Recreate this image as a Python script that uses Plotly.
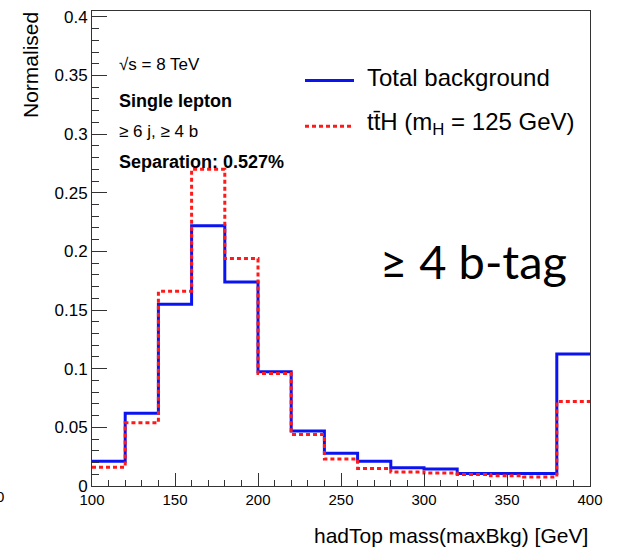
import plotly.graph_objects as go

# Histogram binning (GeV) and normalised bin contents
bin_edges = [100, 120, 140, 160, 180, 200, 220, 240, 260, 280, 300, 320, 340, 360, 380, 400]
total_background = [0.021, 0.062, 0.155, 0.222, 0.174, 0.0975, 0.047, 0.028, 0.021,
                    0.0155, 0.0144, 0.0107, 0.0107, 0.0107, 0.1125]
tth_signal = [0.016, 0.054, 0.166, 0.270, 0.194, 0.096, 0.044, 0.023, 0.015,
              0.012, 0.011, 0.0099, 0.0087, 0.0076, 0.072]

W, H = 629, 552
L, R, T, B = 92, 39, 8, 66
PW, PH = W - L - R, H - T - B


def px(x):
    return (x - L) / PW


def py(y):
    return (H - B - y) / PH


FONT = "Liberation Sans, Arial, Helvetica, sans-serif"
BLUE = "#0a14f0"
RED = "#ff1a1a"

fig = go.Figure()

fig.add_trace(go.Scatter(
    x=bin_edges, y=total_background + [total_background[-1]],
    mode="lines", line=dict(shape="hv", color=BLUE, width=3),
    name="Total background", showlegend=False, hoverinfo="skip"))

fig.add_trace(go.Scatter(
    x=bin_edges, y=tth_signal + [tth_signal[-1]],
    mode="lines", line=dict(shape="hv", color=RED, width=3, dash="4px,3px"),
    name="ttH", showlegend=False, hoverinfo="skip"))

axis_common = dict(
    showgrid=False, zeroline=False, showline=True, mirror=True,
    linecolor="#333333", linewidth=1, ticks="inside", tickcolor="#333333",
    tickfont=dict(family=FONT, color="black"),
)

fig.update_xaxes(range=[100, 400], dtick=50, tick0=100, ticklen=13,
                 tickfont_size=15,
                 minor=dict(dtick=10, ticklen=6, ticks="inside", tickcolor="#333333"),
                 **axis_common)
fig.update_yaxes(range=[0, 0.405], dtick=0.05, tick0=0, ticklen=15,
                 tickfont_size=17,
                 minor=dict(dtick=0.01, ticklen=7, ticks="inside", tickcolor="#333333"),
                 **axis_common)

annotations = []


def text(x, y, s, size, bold=False, xanchor="left", yanchor="middle", family=FONT, angle=0):
    if bold:
        s = "<b>" + s + "</b>"
    annotations.append(dict(
        xref="paper", yref="paper", x=px(x), y=py(y), text=s, showarrow=False,
        xanchor=xanchor, yanchor=yanchor, textangle=angle,
        font=dict(family=family, size=size, color="black")))


# Labels inside the frame
text(117, 62, "√s = 8 TeV", 17)
text(117, 99, "Single lepton", 18, bold=True)
text(117, 129, "≥ 6 j, ≥ 4 b", 17)
text(117, 160, "Separation: 0.527%", 18, bold=True)

# Legend
text(365, 75, "Total background", 24)
text(365, 121, "tt̄H (m<sub>H</sub> = 125 GeV)", 24)

# Category label
text(473, 260, "≥ 4 b-tag", 47, xanchor="center", family="Lato, sans-serif")

# Axis titles
text(590, 536, "hadTop mass(maxBkg) [GeV]", 21, xanchor="right")
text(30, 7, "Normalised", 21, xanchor="center", yanchor="top", angle=-90)

# Clipped neighbouring label at the left edge
text(6, 497, "0", 15, xanchor="right")

shapes = [
    dict(type="line", xref="paper", yref="paper", x0=px(305), x1=px(354),
         y0=py(78), y1=py(78), line=dict(color=BLUE, width=3)),
    dict(type="line", xref="paper", yref="paper", x0=px(305), x1=px(354),
         y0=py(124), y1=py(124), line=dict(color=RED, width=3, dash="4px,3px")),
]

fig.update_layout(
    width=W, height=H,
    margin=dict(l=L, r=R, t=T, b=B),
    paper_bgcolor="white", plot_bgcolor="white",
    annotations=annotations, shapes=shapes,
    showlegend=False,
)

fig.write_html("out.html")
